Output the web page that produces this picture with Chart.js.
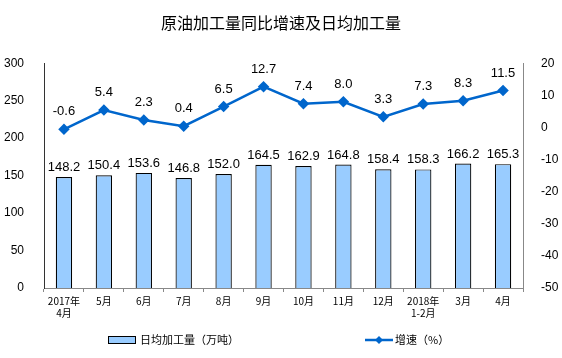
<!DOCTYPE html>
<html>
<head>
<meta charset="utf-8">
<script src="https://cdn.jsdelivr.net/npm/chart.js@4/dist/chart.umd.min.js"></script>
<style>
  html, body { margin: 0; padding: 0; background: #fff; }
  #wrap { width: 562px; height: 358px; }
</style>
</head>
<body>
<div id="wrap"><canvas id="chart"></canvas></div>
<script>
    // data
    const months = [['2017年', '4月'], '5月', '6月', '7月', '8月', '9月', '10月', '11月', '12月', ['2018年', '1-2月'], '3月', '4月'];
    const dailyOutput = [148.2, 150.4, 153.6, 146.8, 152.0, 164.5, 162.9, 164.8, 158.4, 158.3, 166.2, 165.3];
    const growthRate = [-0.6, 5.4, 2.3, 0.4, 6.5, 12.7, 7.4, 8.0, 3.3, 7.3, 8.3, 11.5];
    const barLabel = '日均加工量（万吨）';
    const lineLabel = '增速（%）';

    const numFont = '"Liberation Sans", Arial, sans-serif';
    const cjkFont = '"Noto Sans CJK SC", "Noto Sans", sans-serif';

    // value labels above bars and points
    const valueLabels = {
        id: 'valueLabels',
        afterDatasetsDraw(chart) {
            const ctx = chart.ctx;
            ctx.save();
            ctx.font = '13px ' + numFont;
            ctx.fillStyle = '#000';
            ctx.textAlign = 'center';
            ctx.textBaseline = 'bottom';
            chart.data.datasets.forEach((ds, i) => {
                const meta = chart.getDatasetMeta(i);
                meta.data.forEach((el, j) => {
                    const v = ds.data[j].toFixed(1);
                    const gap = ds.type === 'line' ? 11 : 3;
                    ctx.fillText(v, el.x, el.y - gap);
                });
            });
            ctx.restore();
        }
    };

    // legend drawn under the axis, two items spread apart like the original
    const bottomLegend = {
        id: 'bottomLegend',
        afterDraw(chart) {
            const ctx = chart.ctx;
            const cx = chart.width / 2;
            const y = chart.height - 18;
            ctx.save();
            ctx.font = '11px ' + cjkFont;
            ctx.textBaseline = 'middle';
            ctx.fillStyle = '#000';

            // bar item
            const bx = cx - 173;
            ctx.fillStyle = '#99CCFF';
            ctx.fillRect(bx, y - 3.5, 27, 7);
            ctx.strokeStyle = '#000';
            ctx.lineWidth = 1;
            ctx.strokeRect(bx + 0.5, y - 3.5, 27, 7);
            ctx.fillStyle = '#000';
            ctx.fillText(barLabel, bx + 32, y);

            // line item
            const lx = cx + 84;
            ctx.strokeStyle = '#0066CC';
            ctx.lineWidth = 2.5;
            ctx.beginPath();
            ctx.moveTo(lx, y);
            ctx.lineTo(lx + 28, y);
            ctx.stroke();
            ctx.fillStyle = '#0066CC';
            ctx.beginPath();
            ctx.moveTo(lx + 14, y - 4);
            ctx.lineTo(lx + 18, y);
            ctx.lineTo(lx + 14, y + 4);
            ctx.lineTo(lx + 10, y);
            ctx.closePath();
            ctx.fill();
            ctx.fillStyle = '#000';
            ctx.fillText(lineLabel, lx + 30, y);
            ctx.restore();
        }
    };

    new Chart(document.getElementById('chart'), {
        type: 'bar',
        data: {
            labels: months,
            datasets: [{
                type: 'line',
                label: lineLabel,
                data: growthRate,
                yAxisID: 'y1',
                borderColor: '#0066CC',
                backgroundColor: '#0066CC',
                borderWidth: 2.5,
                pointStyle: 'rectRot',
                pointRadius: 4,
                pointBackgroundColor: '#0066CC',
                pointBorderColor: '#0066CC',
                tension: 0,
                order: 0
            }, {
                type: 'bar',
                label: barLabel,
                data: dailyOutput,
                yAxisID: 'y',
                backgroundColor: '#99CCFF',
                borderColor: '#000',
                borderWidth: 1.2,
                barPercentage: 0.41,
                categoryPercentage: 1,
                order: 1
            }]
        },
        options: {
            responsive: true,
            maintainAspectRatio: false,
            animation: false,
            layout: { padding: { left: 0, right: 0, top: 0, bottom: 36 } },
            plugins: {
                legend: { display: false },
                tooltip: { enabled: false },
                title: {
                    display: true,
                    text: '原油加工量同比增速及日均加工量',
                    color: '#000',
                    font: { family: cjkFont, size: 16, weight: 'normal' },
                    padding: { top: 13, bottom: 31 }
                }
            },
            scales: {
                x: {
                    offset: true,
                    grid: { display: true, offset: true, drawOnChartArea: false, drawTicks: true, tickLength: 4, color: '#888' },
                    border: { color: '#888' },
                    ticks: {
                        color: '#000',
                        font: { family: cjkFont, size: 10 },
                        maxRotation: 0,
                        autoSkip: false,
                        padding: 3
                    }
                },
                y: {
                    position: 'left',
                    min: 0,
                    max: 300,
                    grid: { display: false },
                    border: { display: true, color: '#333' },
                    ticks: {
                        stepSize: 50,
                        color: '#000',
                        font: { family: numFont, size: 12 },
                        padding: 12
                    },
                    afterFit(scale) { scale.width = 44; }
                },
                y1: {
                    position: 'right',
                    min: -50,
                    max: 20,
                    grid: { display: false },
                    border: { display: true, color: '#888' },
                    ticks: {
                        stepSize: 10,
                        color: '#000',
                        font: { family: numFont, size: 12 },
                        padding: 10
                    },
                    afterFit(scale) { scale.width = 39; }
                }
            }
        },
        plugins: [valueLabels, bottomLegend]
    });
</script>
</body>
</html>
